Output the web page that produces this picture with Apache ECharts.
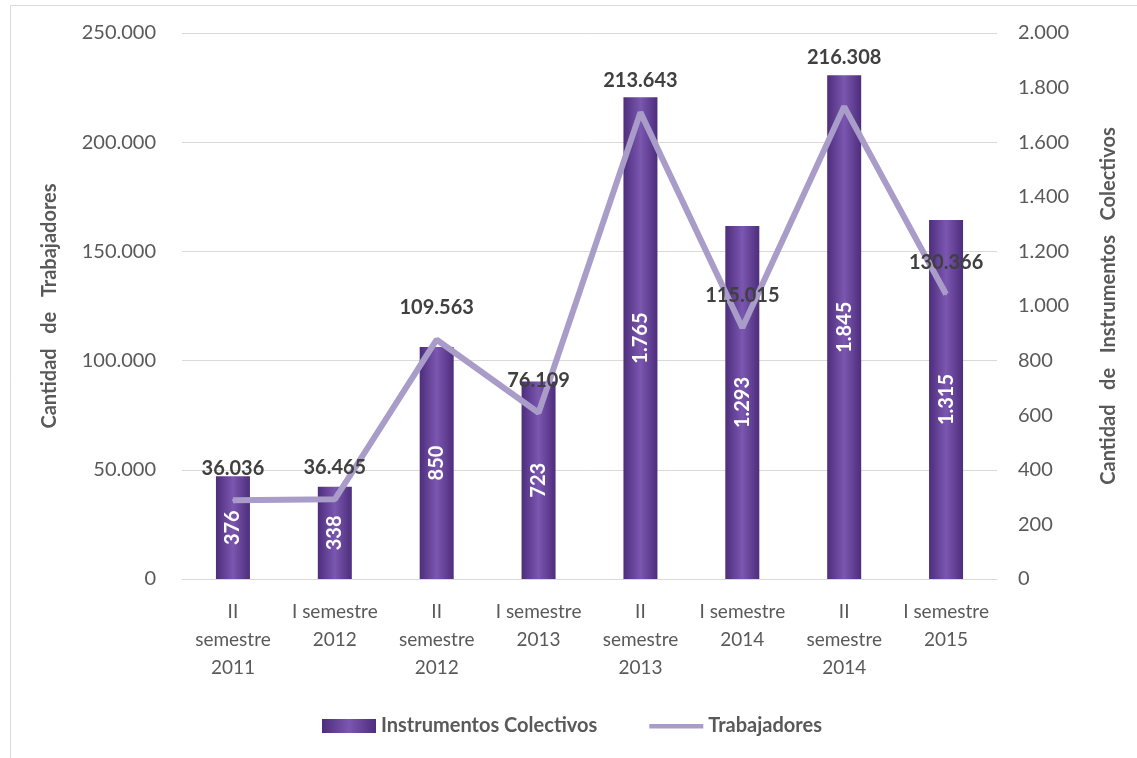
<!DOCTYPE html>
<html>
<head>
<meta charset="utf-8">
<script src="https://cdn.jsdelivr.net/npm/echarts@6/dist/echarts.min.js"></script>
<style>
html,body{margin:0;padding:0;background:#fff;}
#chart{width:1137px;height:758px;}
</style>
</head>
<body>
<div id="chart"></div>
<script>
var categories = ["II\nsemestre\n2011", "I semestre\n2012", "II\nsemestre\n2012", "I semestre\n2013", "II\nsemestre\n2013", "I semestre\n2014", "II\nsemestre\n2014", "I semestre\n2015"];
var instrumentos = [376, 338, 850, 723, 1765, 1293, 1845, 1315];
var trabajadores = [36036, 36465, 109563, 76109, 213643, 115015, 216308, 130366];
var leftTicks = [0, 50000, 100000, 150000, 200000, 250000];
var rightTicks = [0, 200, 400, 600, 800, 1000, 1200, 1400, 1600, 1800, 2000];

function fmt(n) {
  return String(Math.round(n)).replace(/\B(?=(\d{3})+(?!\d))/g, '.');
}

var FONT = 'Lato';
var LINE_COLOR = '#a99cc9';
var chart = echarts.init(document.getElementById('chart'));

var lineData = trabajadores.map(function (v, i) {
  var d = { value: v };
  if (i === 6) d.label = { distance: 38 };
  return d;
});

chart.setOption({
  backgroundColor: '#ffffff',
  textStyle: { fontFamily: FONT },
  graphic: [{
    type: 'rect',
    shape: { x: 10.5, y: 5.5, width: 1150, height: 780 },
    style: { fill: 'none', stroke: '#d9d9d9', lineWidth: 1 },
    silent: true
  }],
  grid: { left: 182, right: 140, top: 33, bottom: 179, containLabel: false },
  legend: {
    left: 317,
    top: 711,
    itemWidth: 54,
    itemHeight: 14,
    itemGap: 52,
    textStyle: { fontFamily: FONT, fontSize: 20, fontWeight: 'bold', color: '#595959' },
    data: [
      { name: 'Instrumentos Colectivos', icon: 'rect' },
      { name: 'Trabajadores', icon: 'path://M0,0L0,0M0,5L54,5L54,9.5L0,9.5ZM54,14L54,14', itemStyle: { color: LINE_COLOR } }
    ]
  },
  xAxis: {
    type: 'category',
    data: categories,
    axisLine: { lineStyle: { color: '#d9d9d9', width: 1 } },
    axisTick: { show: false },
    axisLabel: {
      interval: 0,
      margin: 19,
      fontFamily: FONT,
      fontSize: 19,
      lineHeight: 28,
      color: '#595959'
    }
  },
  yAxis: [{
    type: 'value',
    min: leftTicks[0],
    max: leftTicks[leftTicks.length - 1],
    interval: leftTicks[1] - leftTicks[0],
    name: 'Cantidad   de   Trabajadores',
    nameLocation: 'middle',
    nameRotate: 90,
    nameGap: 122,
    nameTextStyle: { fontFamily: FONT, fontSize: 20, fontWeight: 'bold', color: '#595959' },
    axisLine: { show: false },
    axisTick: { show: false },
    splitLine: { lineStyle: { color: '#d9d9d9', width: 1 } },
    axisLabel: { margin: 26, fontFamily: FONT, fontSize: 20, color: '#595959', formatter: fmt }
  }, {
    type: 'value',
    position: 'right',
    min: rightTicks[0],
    max: rightTicks[rightTicks.length - 1],
    interval: rightTicks[1] - rightTicks[0],
    name: 'Cantidad   de   Instrumentos   Colectivos',
    nameLocation: 'middle',
    nameRotate: 90,
    nameGap: 102,
    nameTextStyle: { fontFamily: FONT, fontSize: 20, fontWeight: 'bold', color: '#595959' },
    axisLine: { show: false },
    axisTick: { show: false },
    splitLine: { show: false },
    axisLabel: { margin: 21, fontFamily: FONT, fontSize: 20, color: '#595959', formatter: fmt }
  }],
  series: [{
    name: 'Instrumentos Colectivos',
    type: 'bar',
    yAxisIndex: 1,
    data: instrumentos,
    barWidth: 34,
    itemStyle: {
      color: new echarts.graphic.LinearGradient(0, 0, 1, 0, [
        { offset: 0, color: '#4d2d7c' },
        { offset: 0.5, color: '#7b57b0' },
        { offset: 1, color: '#4d2d7c' }
      ])
    },
    label: {
      show: true,
      position: 'inside',
      rotate: 90,
      fontFamily: FONT,
      fontSize: 20,
      fontWeight: 'bold',
      color: '#ffffff',
      formatter: function (p) { return fmt(p.value); }
    },
    z: 2
  }, {
    name: 'Trabajadores',
    type: 'line',
    yAxisIndex: 0,
    data: lineData,
    symbol: 'circle',
    symbolSize: 2,
    showSymbol: true,
    lineStyle: { color: LINE_COLOR, width: 6 },
    itemStyle: { color: LINE_COLOR },
    label: {
      show: true,
      position: 'top',
      distance: 21,
      fontFamily: FONT,
      fontSize: 20,
      fontWeight: 'bold',
      color: '#404040',
      formatter: function (p) { return fmt(p.value); }
    },
    labelLayout: { hideOverlap: false },
    z: 3
  }]
});
</script>
</body>
</html>
